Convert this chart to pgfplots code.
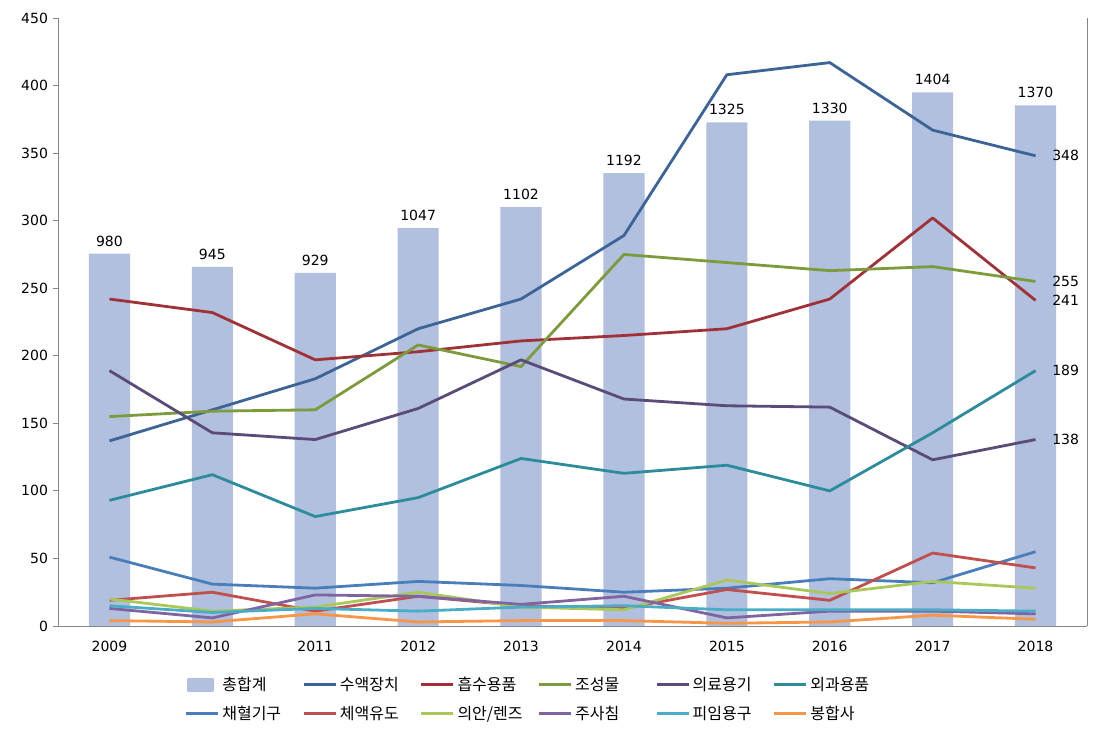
\documentclass[border=0pt]{standalone}
\usepackage{pgfplots}
\pgfplotsset{compat=1.18}
\usepackage{fontspec}
\setmainfont{DejaVu Sans}
\newfontfamily\kr{Noto Sans CJK KR}
\definecolor{barc}{RGB}{176,192,222}
\definecolor{c1}{RGB}{60,100,150}
\definecolor{c2}{RGB}{160,50,55}
\definecolor{c3}{RGB}{125,155,60}
\definecolor{c4}{RGB}{90,75,120}
\definecolor{c5}{RGB}{45,140,155}
\definecolor{c6}{RGB}{74,126,187}
\definecolor{c7}{RGB}{192,80,77}
\definecolor{c8}{RGB}{170,200,90}
\definecolor{c9}{RGB}{128,100,162}
\definecolor{c10}{RGB}{75,172,198}
\definecolor{c11}{RGB}{247,150,70}
\definecolor{axgray}{RGB}{134,134,134}
\begin{document}
\begin{tikzpicture}
\path (-43.5pt,-79.5pt) rectangle (783pt,469.5pt);
% bars on hidden secondary axis
\begin{axis}[at={(0,0)}, anchor=south west, scale only axis,
  width=771.75pt, height=456pt,
  xmin=-0.5, xmax=9.5, ymin=0, ymax=1600,
  axis x line=none, axis y line*=right, ytick=\empty,
  axis line style={axgray, line width=0.6pt},
  /pgf/number format/1000 sep={},
  /pgf/number format/assume math mode=true]
\addplot[ybar, bar width=0.4, fill=barc, draw=none,
  nodes near coords,
  every node near coord/.style={font=\fontsize{10.5}{12}\selectfont, black, anchor=south, yshift=2pt}]
  coordinates {(0,980) (1,945) (2,929) (3,1047) (4,1102) (5,1192) (6,1325) (7,1330) (8,1404) (9,1370)};
\end{axis}
% lines on primary axis
\begin{axis}[at={(0,0)}, anchor=south west, scale only axis,
  width=771.75pt, height=456pt,
  xmin=-0.5, xmax=9.5, ymin=0, ymax=450,
  axis x line*=bottom, axis y line*=left,
  axis line style={axgray, line width=0.6pt, -},
  xtick={0,...,9},
  xticklabels={2009,2010,2011,2012,2013,2014,2015,2016,2017,2018},
  x tick style={draw=none},
  extra x ticks={-0.5,0.5,...,9.5}, extra x tick labels={},
  extra x tick style={tick style={draw=axgray, line width=0.6pt}},
  ytick={0,50,...,450},
  y tick style={draw=axgray, line width=0.6pt},
  tick align=outside, major tick length=4pt,
  tick label style={font=\fontsize{10.5}{12}\selectfont, black},
  /pgf/number format/assume math mode=true,
  x tick label style={yshift=-4pt},
  legend columns=6,
  legend style={at={(0.466,-0.075)}, anchor=north, draw=none,
    font=\kr\fontsize{12}{14}\selectfont, row sep=6pt,
    /tikz/every even column/.append style={text width=58pt}},
  legend cell align=left,
  legend image code/.code={\draw[#1, line width=2.2pt] (0pt,0pt) -- (24pt,0pt);},
  every axis plot/.append style={line width=2.1pt, line join=round},
  clip=false]
\addlegendimage{legend image code/.code={\fill[barc] (2pt,-4.5pt) rectangle (20pt,4.5pt);}}
\addlegendentry{총합계}
\addplot[c1] coordinates {(0,137) (1,160) (2,183) (3,220) (4,242) (5,289) (6,408) (7,417) (8,367) (9,348)};
\addlegendentry{수액장치}
\addplot[c2] coordinates {(0,242) (1,232) (2,197) (3,203) (4,211) (5,215) (6,220) (7,242) (8,302) (9,241)};
\addlegendentry{흡수용품}
\addplot[c3] coordinates {(0,155) (1,159) (2,160) (3,208) (4,192) (5,275) (6,269) (7,263) (8,266) (9,255)};
\addlegendentry{조성물}
\addplot[c4] coordinates {(0,189) (1,143) (2,138) (3,161) (4,197) (5,168) (6,163) (7,162) (8,123) (9,138)};
\addlegendentry{의료용기}
\addplot[c5] coordinates {(0,93) (1,112) (2,81) (3,95) (4,124) (5,113) (6,119) (7,100) (8,143) (9,189)};
\addlegendentry{외과용품}
\addplot[c6] coordinates {(0,51) (1,31) (2,28) (3,33) (4,30) (5,25) (6,28) (7,35) (8,32) (9,55)};
\addlegendentry{채혈기구}
\addplot[c7] coordinates {(0,19) (1,25) (2,11) (3,22) (4,15) (5,13) (6,27) (7,19) (8,54) (9,43)};
\addlegendentry{체액유도}
\addplot[c8] coordinates {(0,20) (1,11) (2,14) (3,25) (4,14) (5,12) (6,34) (7,24) (8,33) (9,28)};
\addlegendentry{의안/렌즈}
\addplot[c9] coordinates {(0,13) (1,6) (2,23) (3,22) (4,16) (5,22) (6,6) (7,11) (8,11) (9,9)};
\addlegendentry{주사침}
\addplot[c10] coordinates {(0,15) (1,10) (2,13) (3,11) (4,14) (5,15) (6,12) (7,12) (8,12) (9,11)};
\addlegendentry{피임용구}
\addplot[c11] coordinates {(0,4) (1,3) (2,9) (3,3) (4,4) (5,4) (6,2) (7,3) (8,8) (9,5)};
\addlegendentry{봉합사}
\foreach \v in {348,255,241,189,138} {
  \edef\tmp{\noexpand\node[anchor=west, font=\noexpand\fontsize{10.5}{12}\noexpand\selectfont, xshift=9pt] at (axis cs:9,\v) {\v};}
  \tmp
}
\end{axis}
\end{tikzpicture}
\end{document}
